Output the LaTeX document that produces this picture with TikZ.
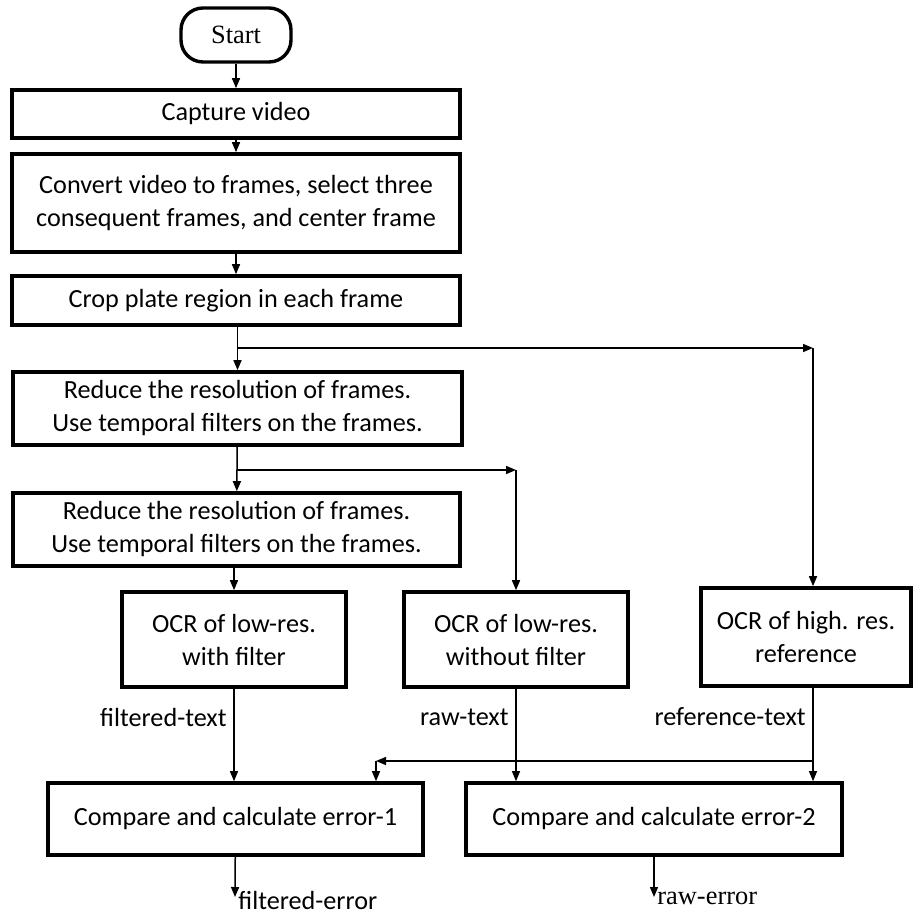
\documentclass[tikz,border=0pt]{standalone}
\usepackage{fontspec}
\setmainfont{Carlito}
\newfontfamily\serifface{Liberation Serif}
\usetikzlibrary{arrows.meta,positioning}

\begin{document}
\begin{tikzpicture}[
  x=0.5pt, y=-0.5pt,
  procbox/.style={draw,line width=1.8pt,align=center,inner sep=0pt,
                  font=\fontsize{13.1}{16.5}\selectfont},
  startbox/.style={draw,line width=1.7pt,rounded corners=11pt,inner sep=0pt,
                   minimum width=55pt,minimum height=27pt,
                   font=\serifface\fontsize{13.2}{16}\selectfont},
  arr/.style={-{Triangle[length=5pt,width=4pt]},line width=0.75pt},
  thinarr/.style={-{Triangle[length=5pt,width=4pt]},line width=0.55pt},
  lbl/.style={inner sep=1pt,font=\fontsize{13.1}{16}\selectfont},
]
\useasboundingbox (0,0) rectangle (912,913);

% Start
\node[startbox] (start) at (236,35) {Start};

% Preparation steps
\node[procbox,minimum width=224pt,minimum height=24pt] (capture) at (236,114)
  {Capture video};
\node[procbox,minimum width=224pt,minimum height=49pt] (convert) at (236,203)
  {Convert video to frames, select three\\
   consequent frames, and center frame};
\node[procbox,minimum width=224pt,minimum height=24.5pt] (crop) at (236,300.5)
  {Crop plate region in each frame};

\draw[arr] (start) -- (capture);
\draw[arr] (capture) -- (convert);
\draw[arr] (convert) -- (crop);

% Resolution reduction
\node[procbox,minimum width=224.5pt,minimum height=36.5pt] (reduceA) at (237.5,408.5)
  {Reduce the resolution of frames.\\
   Use temporal filters on the frames.};
\node[procbox,minimum width=223.5pt,minimum height=36.5pt] (reduceB) at (236.5,529.5)
  {Reduce the resolution of frames.\\
   Use temporal filters on the frames.};

\draw[arr] (crop.south -| reduceA) -- (reduceA);
\draw[arr] (reduceA) -- (reduceB);

% OCR branches
\node[procbox,minimum width=112pt,minimum height=47.5pt] (ocrA) at (234,639.5)
  {OCR of low-res.\\ with filter};
\node[procbox,minimum width=112pt,minimum height=47.5pt] (ocrB) at (516,639.5)
  {OCR of low-res.\\ without filter};
\node[procbox,minimum width=105pt,minimum height=49pt] (ocrC) at (806,637)
  {OCR of high. res.\\ reference};

\coordinate (forkA) at (237,348);
\coordinate (turnA) at (813,348);
\draw[arr] (forkA) -- (turnA);
\draw[arr] (turnA) -- (turnA |- ocrC.north);

\coordinate (forkB) at (237,470);
\coordinate (turnB) at (516,470);
\draw[arr] (forkB) -- (turnB);
\draw[arr] (turnB) -- (ocrB);

\draw[arr] (reduceB.south -| ocrA) -- (ocrA);

% Comparison
\node[procbox,minimum width=187.5pt,minimum height=36pt] (compareA) at (235.5,819)
  {Compare and calculate error-1};
\node[procbox,minimum width=188pt,minimum height=36pt] (compareB) at (654,819)
  {Compare and calculate error-2};

\node[lbl,anchor=east] (filtText) at (229,717) {filtered-text};
\node[lbl,anchor=east] (rawText) at (511,717) {raw-text};
\node[lbl,anchor=east] (refText) at (808,717) {reference-text};

\draw[thinarr] (ocrA.south) -- (ocrA.south |- compareA.north);
\draw[thinarr] (ocrB.south) -- (ocrB.south |- compareB.north);
\draw[thinarr] (turnA |- ocrC.south) -- (turnA |- compareB.north);

\coordinate (forkC) at (813,761);
\coordinate (turnC) at (376,761);
\draw[arr] (forkC) -- (turnC);
\draw[arr] (turnC) -- (turnC |- compareA.north);

% Outputs
\coordinate (endA) at (235,897);
\coordinate (endB) at (654,897);
\draw[arr] (compareA) -- (endA);
\draw[arr] (compareB) -- (endB);
\node[lbl,anchor=west,inner sep=0pt] (filtErr) at (238,900) {filtered-error};
\node[anchor=west,inner sep=0pt,font=\serifface\fontsize{13.2}{16}\selectfont]
  (rawErr) at (657,898) {raw-error};

\end{tikzpicture}
\end{document}
